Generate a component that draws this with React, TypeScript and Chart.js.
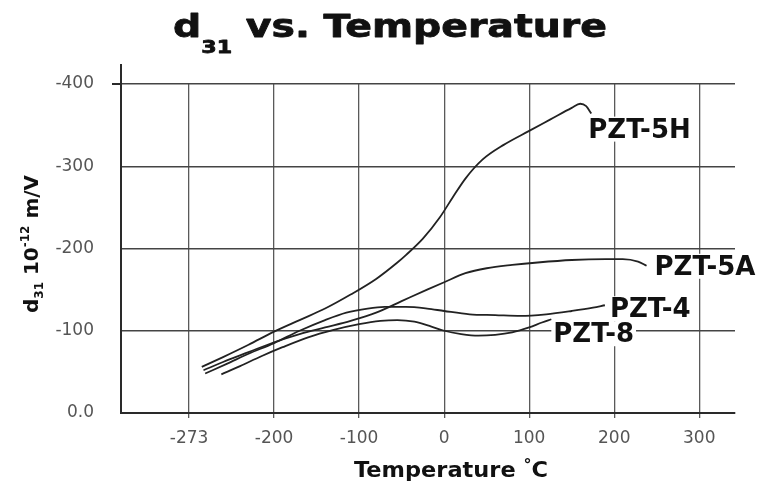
import React, { useEffect, useRef } from 'react';
import { Chart, registerables } from 'chart.js';

Chart.register(...registerables);

// Temperature axis: evenly spaced ticks, the first one standing for absolute zero.
const tempTicks = [-300, -200, -100, 0, 100, 200, 300];
const tempTickLabels = ['-273', '-200', '-100', '0', '100', '200', '300'];

// d31 axis (10^-12 m/V), negative values plotted upward.
const d31Ticks = [-400, -300, -200, -100, 0];
const d31TickLabels = ['-400', '-300', '-200', '-100', '0.0'];

const seriesNames = ['PZT-5H', 'PZT-5A', 'PZT-4', 'PZT-8'];

const pzt5hTemp = [-285, -260, -230, -200, -170, -140, -110, -80, -55, -45, -25, -5, 10, 25, 45, 70, 100, 125, 150, 160, 167, 173];
const pzt5hD31 = [-56, -68, -83, -99, -113, -127, -144, -163, -183, -192, -212, -238, -262, -285, -308, -326, -343, -357, -371, -376, -373, -364];

const pzt5aTemp = [-283, -260, -230, -200, -170, -140, -110, -80, -50, -20, 0, 25, 50, 80, 110, 150, 190, 210, 228, 238];
const pzt5aD31 = [-52, -62, -74, -86, -96, -104, -112, -122, -136, -150, -159, -170, -176, -180, -183, -186, -187, -187, -184, -179];

const pzt4Temp = [-281, -255, -230, -200, -170, -140, -115, -90, -70, -45, -20, 0, 30, 60, 90, 120, 150, 175, 189];
const pzt4D31 = [-48, -60, -72, -85, -100, -113, -122, -127, -129, -129, -127, -124, -120, -119, -118, -120, -124, -128, -131];

const pzt8Temp = [-262, -240, -215, -190, -160, -130, -100, -75, -55, -35, -15, 0, 20, 40, 60, 80, 100, 115, 126];
const pzt8D31 = [-47, -57, -69, -80, -92, -101, -108, -112, -113, -111, -105, -100, -96, -94, -95, -98, -104, -110, -114];

const seriesTemps = [pzt5hTemp, pzt5aTemp, pzt4Temp, pzt8Temp];
const seriesValues = [pzt5hD31, pzt5aD31, pzt4D31, pzt8D31];

// Label placement relative to the end of each curve, in pixels.
const labelOffsets = [
  [-3, 24],
  [8, 9],
  [5, 12],
  [2, 23],
];

const FAMILY = '"DejaVu Sans", "Liberation Sans", sans-serif';

type Seg = { text: string; size: number; dy?: number };

function drawRun(
  ctx: CanvasRenderingContext2D,
  segs: Seg[],
  x: number,
  y: number,
  width: number,
  align: 'left' | 'center',
  stroke: number
) {
  let natural = 0;
  const widths: number[] = [];
  for (const s of segs) {
    ctx.font = `bold ${s.size}px ${FAMILY}`;
    const w = ctx.measureText(s.text).width;
    widths.push(w);
    natural += w;
  }
  const sx = width > 0 ? width / natural : 1;
  ctx.save();
  ctx.translate(x, y);
  ctx.scale(sx, 1);
  ctx.textBaseline = 'alphabetic';
  ctx.textAlign = 'left';
  ctx.fillStyle = '#111';
  ctx.strokeStyle = '#111';
  ctx.lineWidth = stroke;
  ctx.lineJoin = 'round';
  let cx = align === 'center' ? -natural / 2 : 0;
  segs.forEach((s, i) => {
    ctx.font = `bold ${s.size}px ${FAMILY}`;
    ctx.fillText(s.text, cx, s.dy || 0);
    if (stroke > 0) ctx.strokeText(s.text, cx, s.dy || 0);
    cx += widths[i];
  });
  ctx.restore();
}

const decorations = {
  id: 'decorations',
  afterDraw(chart: any) {
    const ctx: CanvasRenderingContext2D = chart.ctx;
    const area = chart.chartArea;
    const xs = chart.scales.x;
    const ys = chart.scales.y;

    // axis line running above the top grid line, and the tick at -400
    ctx.save();
    ctx.strokeStyle = '#2a2a2a';
    ctx.lineWidth = 2;
    ctx.beginPath();
    ctx.moveTo(area.left, area.top + 1);
    ctx.lineTo(area.left, area.top - 20);
    ctx.moveTo(area.left - 9, ys.getPixelForValue(-400));
    ctx.lineTo(area.left, ys.getPixelForValue(-400));
    ctx.stroke();
    ctx.restore();

    // chart title
    drawRun(
      ctx,
      [
        { text: 'd', size: 32 },
        { text: '31', size: 18, dy: 16 },
        { text: ' vs. Temperature', size: 32 },
      ],
      173,
      37,
      434,
      'left',
      0.8
    );

    // y-axis title, rotated
    ctx.save();
    ctx.translate(38, 244);
    ctx.rotate(-Math.PI / 2);
    drawRun(
      ctx,
      [
        { text: 'd', size: 20 },
        { text: '31', size: 12, dy: 5 },
        { text: ' 10', size: 20 },
        { text: '-12', size: 12, dy: -9 },
        { text: ' m/V', size: 20 },
      ],
      0,
      0,
      138,
      'center',
      0
    );
    ctx.restore();

    // x-axis title
    drawRun(
      ctx,
      [
        { text: 'Temperature ', size: 21 },
        { text: '°', size: 15, dy: -7 },
        { text: 'C', size: 21 },
      ],
      451,
      477,
      194,
      'center',
      0
    );

    // curve labels
    ctx.save();
    ctx.font = `bold 26px ${FAMILY}`;
    ctx.textBaseline = 'alphabetic';
    ctx.textAlign = 'left';
    seriesNames.forEach((name, i) => {
      const temps = seriesTemps[i];
      const vals = seriesValues[i];
      const n = temps.length - 1;
      const px = xs.getPixelForValue(temps[n]) + labelOffsets[i][0];
      const py = ys.getPixelForValue(vals[n]) + labelOffsets[i][1];
      const w = ctx.measureText(name).width;
      ctx.fillStyle = '#fff';
      ctx.fillRect(px - 2, py - 21, w + 4, 25);
      ctx.fillStyle = '#111';
      ctx.fillText(name, px, py);
    });
    ctx.restore();
  },
};

export default function App() {
  const canvasRef = useRef<HTMLCanvasElement | null>(null);

  useEffect(() => {
    document.body.style.margin = '0';
    const canvas = canvasRef.current;
    if (!canvas) return;

    const datasets = seriesNames.map((name, i) => ({
      label: name,
      data: seriesTemps[i].map((t, j) => ({ x: t, y: seriesValues[i][j] })),
      borderColor: '#222',
      borderWidth: 1.8,
      pointRadius: 0,
      fill: false,
      cubicInterpolationMode: 'monotone' as const,
    }));

    const chart = new Chart(canvas, {
      type: 'line',
      data: { datasets },
      options: {
        responsive: false,
        animation: false,
        devicePixelRatio: 1,
        layout: { padding: { top: 84, right: 26, left: 0, bottom: 0 } },
        plugins: {
          legend: { display: false },
          tooltip: { enabled: false },
          title: { display: false },
        },
        scales: {
          x: {
            type: 'linear',
            min: -380,
            max: 342,
            afterBuildTicks: (s: any) => {
              s.ticks = tempTicks.map((v) => ({ value: v }));
            },
            afterFit: (s: any) => {
              s.height = 73;
            },
            ticks: {
              autoSkip: false,
              maxRotation: 0,
              padding: 10,
              color: '#555',
              font: { family: FAMILY, size: 17 },
              callback: (v: any) => tempTickLabels[tempTicks.indexOf(Number(v))] ?? '',
            },
            grid: { color: '#5a5a5a', lineWidth: 1.3, tickLength: 5, drawTicks: true },
            border: { color: '#2a2a2a', width: 2 },
          },
          y: {
            type: 'linear',
            min: -400,
            max: 0,
            reverse: true,
            afterBuildTicks: (s: any) => {
              s.ticks = d31Ticks.map((v) => ({ value: v }));
            },
            afterFit: (s: any) => {
              s.width = 121;
            },
            ticks: {
              padding: 27,
              color: '#555',
              font: { family: FAMILY, size: 17 },
              callback: (v: any) => d31TickLabels[d31Ticks.indexOf(Number(v))] ?? '',
            },
            grid: { color: '#444', lineWidth: 1.5, drawTicks: false },
            border: { color: '#2a2a2a', width: 2 },
          },
        },
      },
      plugins: [decorations],
    });

    return () => chart.destroy();
  }, []);

  return (
    <div style={{ width: 761, height: 486, background: '#fff' }}>
      <canvas ref={canvasRef} width={761} height={486} style={{ display: 'block' }} />
    </div>
  );
}
